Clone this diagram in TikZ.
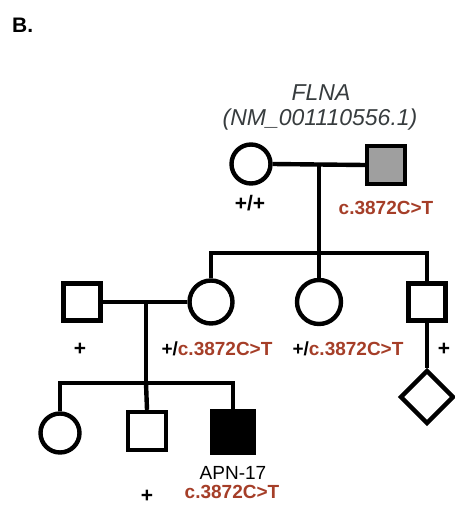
\documentclass[tikz,border=0pt]{standalone}
\usepackage{fontspec}
\setmainfont{Liberation Sans}
\usetikzlibrary{shapes.geometric}
\definecolor{mut}{RGB}{165,62,40}
\definecolor{hdr}{RGB}{55,60,62}
\begin{document}
\begin{tikzpicture}[x=1pt,y=-1pt,
  ln/.style={line width=4.4pt,line join=miter},
  fem/.style={circle,draw,ln,inner sep=0pt,minimum size=#1},
  mal/.style={rectangle,draw,ln,inner sep=0pt,minimum size=#1},
  unk/.style={diamond,draw,ln,inner sep=0pt,aspect=1,minimum width=#1,minimum height=#1},
  lab/.style={font=\fontsize{19}{21}\selectfont\bfseries,inner sep=0pt,anchor=base},
  pl/.style={font=\fontsize{21}{23}\selectfont\bfseries,inner sep=0pt,anchor=base},
  reg/.style={font=\fontsize{19}{21}\selectfont,inner sep=0pt,anchor=base},
  hd/.style={font=\fontsize{23}{25}\selectfont\itshape,text=hdr,inner sep=0pt,anchor=base}]
\useasboundingbox (0,0) rectangle (455,506);
% panel label
\node[font=\fontsize{21}{23}\selectfont\bfseries,inner sep=0pt,anchor=base west] (panel) at (12,32.5) {B.};
% header
\node[hd] (gene) at (321,100) {FLNA};
\node[hd] (ref) at (320,125) {(NM\_001110556.1)};
% generation I
\node[fem=39pt] (gm) at (251,164) {};
\node[mal=38pt,fill=gray!75] (gf) at (386,165) {};
\draw[ln] (gm.east) -- (gf.west);
\coordinate (c1) at (319,165);
\coordinate (s1) at (319,253);
\draw[ln] (c1) -- (s1);
\node[pl] (lgm) at (250,210) {+/+};
\node[lab,text=mut] (lgf) at (386,214) {c.3872C>T};
% generation II
\node[mal=37pt] (sp) at (82,302) {};
\node[fem=43pt] (d1) at (211,302) {};
\node[fem=44pt] (d2) at (319,302) {};
\node[mal=37pt] (s2) at (427,302) {};
\draw[ln] (d1.north) |- (s1) -| (s2.north);
\draw[ln] (s1) -- (d2.north);
\draw[ln] (sp.east) -- (d1.west);
\node[pl] (lsp) at (80,355) {+};
\node[lab] (ld1) at (217,355) {+/\textcolor{mut}{c.3872C>T}};
\node[lab] (ld2) at (348,355) {+/\textcolor{mut}{c.3872C>T}};
\node[pl] (ls2) at (444,355) {+};
\node[unk=54pt] (u1) at (427,397) {};
\draw[ln] (s2.south) -- (u1.north);
% generation III
\coordinate (c2) at (146,302);
\coordinate (s3) at (146,383);
\draw[ln] (c2) -- (s3);
\node[fem=39pt] (g1) at (60,433) {};
\node[mal=38pt] (g2) at (147,431) {};
\node[mal=41pt,fill=black] (g3) at (233,432) {};
\draw[ln] (g1.north) |- (s3) -| (g3.north);
\draw[ln] (s3) -- (g2.north);
\node[reg] (lid) at (233,479) {APN-17};
\node[pl] (lg2) at (147,502) {+};
\node[lab,text=mut] (lg3) at (232,498) {c.3872C>T};
\end{tikzpicture}
\end{document}
